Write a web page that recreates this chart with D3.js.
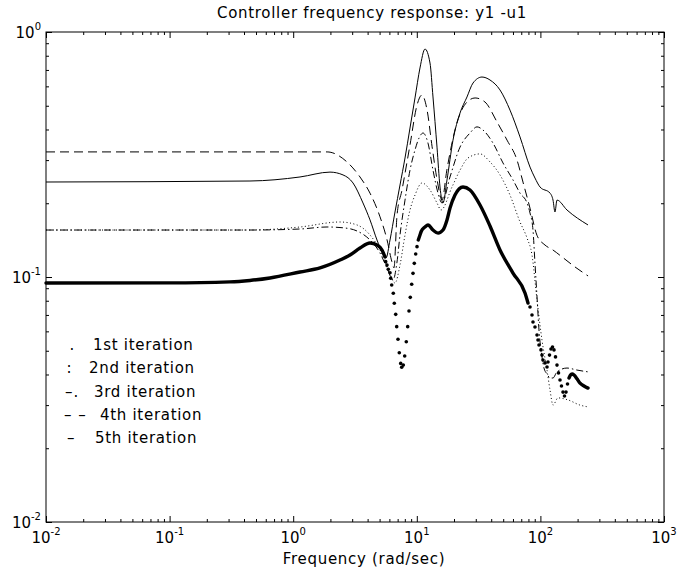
<!DOCTYPE html>
<html>
<head>
<meta charset="utf-8">
<script src="https://cdn.jsdelivr.net/npm/d3@7"></script>
<style>
  body { margin: 0; background: #fff; }
  text { font-family: "DejaVu Sans", sans-serif; fill: #000; }
</style>
</head>
<body>
<svg id="chart"></svg>
<script>
// Controller frequency response, magnitude vs frequency (rad/sec), log-log

// 1st iteration: merged-dot trace (null = trace breaks into separate dots)
const iter1Freq = [0.01, 0.1, 0.308, 0.447, 0.649, 1.135, 1.648, 2.391, 2.881, 3.471, 4.182, 4.764, 5.229, 5.530,
  7.5,
  10.28, 10.61, 10.87, 11.65, 12.32, 13.52, 14.85, 16.29, 17.55, 18.56, 20.37, 23.64, 26.94, 32.46,
  39.10, 47.11, 60.01, 75.06, 79.37,
  120,
  170.4, 175.2, 180.3, 187.1, 197.8, 209.2, 225.3, 242.7];
const iter1Mag = [0.0945, 0.0946, 0.0955, 0.0968, 0.0991, 0.1048, 0.1089, 0.1173, 0.1230, 0.1313, 0.1376, 0.1351, 0.1289, 0.1207,
  null,
  0.1416, 0.1484, 0.1537, 0.160, 0.1631, 0.1555, 0.1511, 0.1555, 0.171, 0.191, 0.216, 0.233, 0.2265, 0.1967,
  0.1615, 0.1289, 0.1038, 0.0860, 0.0783,
  null,
  0.0387, 0.0398, 0.0402, 0.0398, 0.0384, 0.0369, 0.0359, 0.0352];
// 1st iteration: isolated dots where the response moves fast
const iter1DotFreq = [5.602, 5.739, 5.880, 6.070, 6.149, 6.265, 6.455, 6.577, 6.750, 6.877,
  7.045, 7.218, 7.408, 7.547, 7.777, 7.981, 8.222, 8.440, 8.647, 8.858,
  9.092, 9.317, 9.546, 9.797, 10.04,
  82.4, 85.5, 87.1, 90.4, 93.9, 95.6, 97.4, 101.1, 103.0, 104.9, 108.9, 113.1,
  115.2, 118.5, 121.8, 125.3, 128.8, 132.5, 136.2, 140.1, 144.1, 148.1, 152.3, 156.7, 161.1, 165.7];
const iter1DotMag = [0.1155, 0.1119, 0.1075, 0.1041, 0.0988, 0.0928, 0.0858, 0.0781, 0.0704, 0.0627,
  0.0557, 0.0491, 0.0444, 0.0428, 0.0437, 0.0476, 0.0544, 0.0627, 0.0726, 0.0826,
  0.0934, 0.1035, 0.1137, 0.1241, 0.1330,
  0.0754, 0.0700, 0.0655, 0.0625, 0.0580, 0.0553, 0.0528, 0.0504, 0.0480, 0.0458, 0.0446, 0.0429,
  0.0450, 0.0480, 0.0508, 0.0518, 0.0504, 0.0472, 0.0437, 0.0406, 0.0380, 0.0359, 0.0339, 0.0327, 0.0339, 0.0366];

// 2nd iteration (dotted)
const iter2Freq = [0.01, 0.447, 1.135, 2.391, 3.282, 4.182, 5.039, 5.848, 6.662, 7.313, 8.027, 8.81, 9.67,
  11.02, 12.79, 14.57, 15.70, 19.27, 22.37, 25.96, 32.46, 39.10, 47.11, 56.75, 68.39, 77.93, 85.5,
  93.9, 103.0, 113.1, 119.6, 126.5, 138.8, 167.2, 209.2, 242.7];
const iter2Mag = [0.1555, 0.1555, 0.160, 0.1677, 0.1631, 0.1484, 0.1289, 0.1088, 0.0945, 0.1119, 0.1484, 0.1877, 0.216,
  0.242, 0.2265, 0.2005, 0.1877, 0.233, 0.273, 0.306, 0.318, 0.295, 0.261, 0.216, 0.1677, 0.1443, 0.1230,
  0.0805, 0.0553, 0.0417, 0.0346, 0.0300, 0.0321, 0.0315, 0.0300, 0.0295];

// 3rd iteration (dash-dot)
const iter3Freq = [0.01, 0.447, 1.135, 1.877, 2.625, 3.282, 4.182, 5.039, 5.739, 6.418, 6.915, 7.313, 8.027,
  8.81, 9.67, 10.42, 11.23, 12.32, 13.52, 14.85, 15.99, 18.56, 22.37, 26.94, 30.69, 34.32, 41.35, 49.83,
  60.01, 68.39, 77.93, 82.41, 87.1, 90.4, 93.9, 97.4, 103.0, 106.9, 113.1, 119.6, 126.5, 136.2, 164.1, 197.8, 242.7];
const iter3Mag = [0.1555, 0.1555, 0.1570, 0.160, 0.1585, 0.1541, 0.1416, 0.1253, 0.1088, 0.0972, 0.1151, 0.1484, 0.206,
  0.273, 0.330, 0.369, 0.387, 0.352, 0.273, 0.220, 0.2005, 0.256, 0.339, 0.387, 0.410, 0.398, 0.352, 0.292,
  0.249, 0.220, 0.2005, 0.1825, 0.1555, 0.1137, 0.0829, 0.0608, 0.0472, 0.0425, 0.0402, 0.0387, 0.0387, 0.0410, 0.0425, 0.0417, 0.0410];

// 4th iteration (dashed)
const iter4Freq = [0.01, 1.13, 1.88, 2.72, 3.47, 4.18, 5.04, 5.74, 6.30, 6.54, 6.92, 7.59, 8.81, 10.05, 11.0,
  12.1, 13.3, 14.6, 16.0, 17.5, 21.1, 25.5, 29.6, 35.6, 44.6, 53.7, 64.7, 72.3, 82.4, 93.8, 109, 126, 152, 190, 243];
const iter4Mag = [0.324, 0.324, 0.324, 0.295, 0.256, 0.220, 0.176, 0.142, 0.115, 0.109, 0.179, 0.2265, 0.346, 0.504, 0.553,
  0.481, 0.340, 0.249, 0.206, 0.273, 0.425, 0.518, 0.538, 0.518, 0.429, 0.362, 0.300, 0.244, 0.191, 0.148, 0.135, 0.129, 0.120, 0.110, 0.101];

// 5th iteration (solid)
const iter5Freq = [0.01, 0.447, 1.135, 1.985, 2.53, 3.047, 3.67, 4.182, 4.764, 5.229, 5.634, 6.07, 6.662, 7.313, 8.027,
  8.81, 9.67, 10.61, 11.65, 12.79, 13.52, 14.57, 15.41, 16.29, 17.55, 19.63, 22.37, 25.47, 28.49, 33.69,
  39.1, 47.11, 56.75, 68.39, 82.41, 90.4, 99.3, 119.6, 126.5, 131.2, 136.2, 164.1, 242.7];
const iter5Mag = [0.2442, 0.2465, 0.256, 0.268, 0.261, 0.242, 0.2005, 0.171, 0.1416, 0.1265, 0.1196, 0.1416, 0.1842, 0.2374, 0.306,
  0.4056, 0.538, 0.713, 0.852, 0.747, 0.543, 0.339, 0.233, 0.2005, 0.249, 0.362, 0.467, 0.543, 0.619, 0.655,
  0.637, 0.580, 0.480, 0.373, 0.281, 0.2535, 0.233, 0.220, 0.206, 0.1842, 0.206, 0.1877, 0.1631];

const xExponents = [-2, -1, 0, 1, 2, 3];
const yExponents = [-2, -1, 0];
const legendMarks = [".", ":", "–.", "– –", "–"];
const legendLabels = ["1st iteration", "2nd iteration", "3rd iteration", "4th iteration", "5th iteration"];

const width = 680, height = 570;
const marginTop = 32, marginRight = 16, marginBottom = 48, marginLeft = 46;

const svg = d3.select("#chart")
  .attr("width", width)
  .attr("height", height)
  .attr("viewBox", [0, 0, width, height]);

const x = d3.scaleLog().domain([1e-2, 1e3]).range([marginLeft, width - marginRight]);
const y = d3.scaleLog().domain([1e-2, 1]).range([height - marginBottom, marginTop]);

const zip = (F, M) => F.map((f, i) => ({f, m: M[i]}));
const line = d3.line()
  .defined(d => d.m != null)
  .x(d => x(d.f))
  .y(d => y(d.m))
  .curve(d3.curveMonotoneX);

// ticks: majors at decades, minors at 2..9 inside every decade
const xMajor = xExponents.map(e => Math.pow(10, e));
const xMinor = xExponents.slice(0, -1).flatMap(e => d3.range(2, 10).map(k => k * Math.pow(10, e)));
const yMajor = yExponents.map(e => Math.pow(10, e));
const yMinor = yExponents.slice(0, -1).flatMap(e => d3.range(2, 10).map(k => k * Math.pow(10, e)));

const axisG = svg.append("g");
const addAxis = (axis, tx, ty) => axisG.append("g")
  .attr("transform", `translate(${tx},${ty})`)
  .call(axis.tickFormat(""))
  .call(g => g.select(".domain").remove())
  .call(g => g.selectAll(".tick line").attr("stroke", "#000"));

addAxis(d3.axisBottom(x).tickValues(xMajor).tickSize(-6), 0, y.range()[0]);
addAxis(d3.axisBottom(x).tickValues(xMinor).tickSize(-3), 0, y.range()[0]);
addAxis(d3.axisTop(x).tickValues(xMajor).tickSize(-6), 0, y.range()[1]);
addAxis(d3.axisTop(x).tickValues(xMinor).tickSize(-3), 0, y.range()[1]);
addAxis(d3.axisLeft(y).tickValues(yMajor).tickSize(-6), x.range()[0], 0);
addAxis(d3.axisLeft(y).tickValues(yMinor).tickSize(-3), x.range()[0], 0);
addAxis(d3.axisRight(y).tickValues(yMajor).tickSize(-6), x.range()[1], 0);
addAxis(d3.axisRight(y).tickValues(yMinor).tickSize(-3), x.range()[1], 0);

// series
const plot = svg.append("g").attr("fill", "none").attr("stroke", "#000");

plot.append("path").datum(zip(iter5Freq, iter5Mag))
  .attr("d", line).attr("stroke-width", 1);
plot.append("path").datum(zip(iter4Freq, iter4Mag))
  .attr("d", line).attr("stroke-width", 1).attr("stroke-dasharray", "9,5");
plot.append("path").datum(zip(iter3Freq, iter3Mag))
  .attr("d", line).attr("stroke-width", 1).attr("stroke-dasharray", "7,3,1.5,3");
plot.append("path").datum(zip(iter2Freq, iter2Mag))
  .attr("d", line).attr("stroke-width", 1).attr("stroke-dasharray", "1,2.5");
plot.append("path").datum(zip(iter1Freq, iter1Mag))
  .attr("d", line).attr("stroke-width", 3.4).attr("stroke-linecap", "round");
svg.append("g")
  .selectAll("circle")
  .data(zip(iter1DotFreq, iter1DotMag))
  .join("circle")
  .attr("cx", d => x(d.f))
  .attr("cy", d => y(d.m))
  .attr("r", 1.8)
  .attr("fill", "#000");

// box
svg.append("rect")
  .attr("x", x.range()[0]).attr("y", y.range()[1])
  .attr("width", x.range()[1] - x.range()[0])
  .attr("height", y.range()[0] - y.range()[1])
  .attr("fill", "none").attr("stroke", "#000").attr("stroke-width", 1);

// tick labels 10^n
const xl = svg.append("g").selectAll("text").data(xExponents).join("text")
  .attr("x", e => x(Math.pow(10, e)))
  .attr("y", y.range()[0] + 21)
  .attr("text-anchor", "middle")
  .attr("font-size", 15);
xl.append("tspan").text("10");
xl.append("tspan").attr("dy", -8).attr("font-size", 10).text(e => e);

const yl = svg.append("g").selectAll("text").data(yExponents).join("text")
  .attr("x", x.range()[0] - 5)
  .attr("y", e => y(Math.pow(10, e)) + 6)
  .attr("text-anchor", "end")
  .attr("font-size", 15);
yl.append("tspan").text("10");
yl.append("tspan").attr("dy", -8).attr("font-size", 10).text(e => e);

// title and axis label
svg.append("text")
  .attr("x", 372).attr("y", 18)
  .attr("text-anchor", "middle")
  .attr("font-size", 15).attr("letter-spacing", 0.7)
  .text("Controller frequency response: y1 -u1");

svg.append("text")
  .attr("x", 364).attr("y", 564)
  .attr("text-anchor", "middle")
  .attr("font-size", 15).attr("letter-spacing", 0.7)
  .text("Frequency (rad/sec)");

// legend (plain text, no box)
const markX = [69.5, 66.5, 65, 64, 67];
const labelX = [93, 89, 94, 100, 95];
const legend = svg.append("g").attr("font-size", 15).attr("letter-spacing", 0.7);
legendMarks.forEach((mk, i) => {
  const by = 350 + i * 23.3;
  legend.append("text").attr("x", markX[i]).attr("y", by).attr("letter-spacing", 1).text(mk);
  legend.append("text").attr("x", labelX[i]).attr("y", by).text(legendLabels[i]);
});
</script>
</body>
</html>
